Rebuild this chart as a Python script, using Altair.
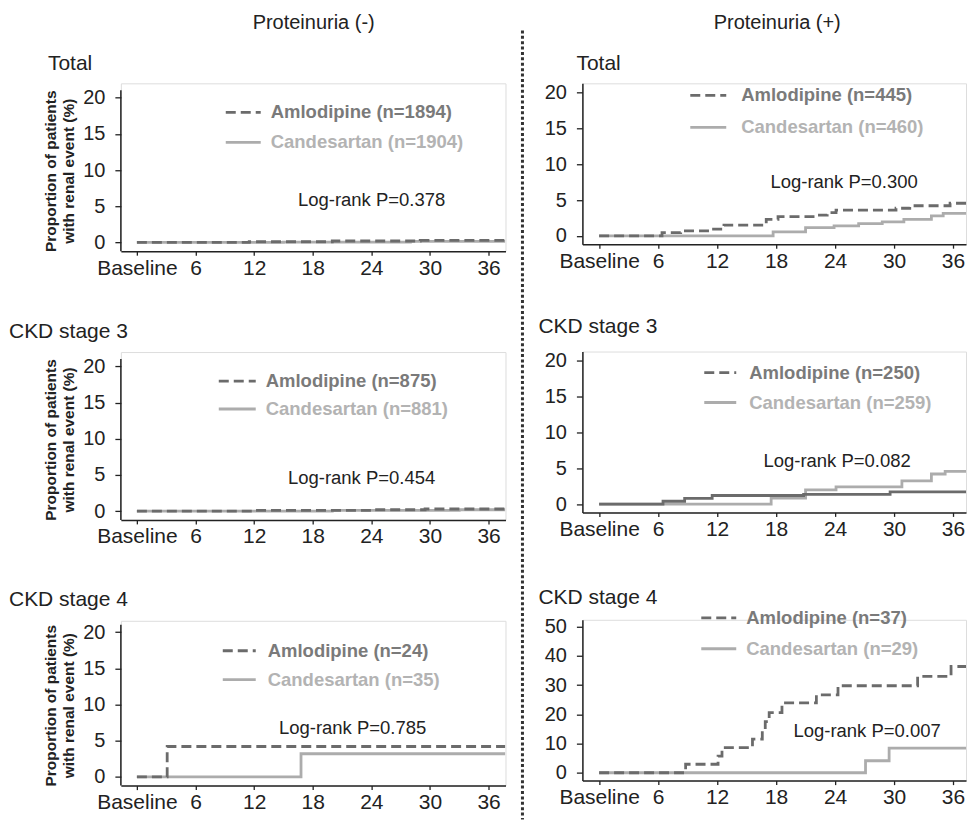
import altair as alt
import pandas as pd

FONT = "Liberation Sans"
MONTH_TICKS = [0, 6, 12, 18, 24, 30, 36]

# ---------------- data ----------------
# Proteinuria (-) / Total
neg_total_amlo_t = [0, 11.5, 20.0, 29.0, 37.7]
neg_total_amlo_v = [0, 0.1, 0.2, 0.3, 0.3]
neg_total_cand_t = [0, 15.0, 28.0, 37.7]
neg_total_cand_v = [0, 0.05, 0.15, 0.15]

# Proteinuria (+) / Total
pos_total_amlo_t = [0, 6.4, 8.3, 11.4, 12.7, 17.0, 18.2, 22.2, 23.2, 24.1, 30.2, 31.6, 35.7, 37.4]
pos_total_amlo_v = [0, 0.45, 0.7, 0.95, 1.5, 2.3, 2.7, 2.9, 3.25, 3.6, 3.85, 4.2, 4.55, 4.55]
pos_total_cand_t = [0, 17.7, 21.0, 23.9, 26.4, 28.8, 31.0, 33.8, 35.0, 37.4]
pos_total_cand_v = [0, 0.55, 1.15, 1.4, 1.7, 1.95, 2.3, 2.8, 3.15, 3.15]

# Proteinuria (-) / CKD stage 3
neg_ckd3_amlo_t = [0, 12.0, 24.0, 29.5, 37.7]
neg_ckd3_amlo_v = [0, 0.1, 0.2, 0.3, 0.3]
neg_ckd3_cand_t = [0, 20.0, 33.0, 37.7]
neg_ckd3_cand_v = [0, 0.1, 0.2, 0.2]

# Proteinuria (+) / CKD stage 3
pos_ckd3_amlo_t = [0, 6.5, 8.7, 11.5, 20.8, 29.6, 37.4]
pos_ckd3_amlo_v = [0, 0.4, 0.8, 1.2, 1.35, 1.7, 1.7]
pos_ckd3_cand_t = [0, 17.5, 21.0, 24.1, 30.8, 33.8, 35.2, 37.4]
pos_ckd3_cand_v = [0, 0.85, 2.0, 2.4, 3.25, 4.2, 4.55, 4.55]

# Proteinuria (-) / CKD stage 4
neg_ckd4_amlo_t = [0, 3.1, 37.7]
neg_ckd4_amlo_v = [0, 4.2, 4.2]
neg_ckd4_cand_t = [0, 16.8, 37.7]
neg_ckd4_cand_v = [0, 3.2, 3.2]

# Proteinuria (+) / CKD stage 4
pos_ckd4_amlo_t = [0, 8.8, 12.1, 12.5, 15.6, 16.6, 16.9, 17.3, 18.6, 22.1, 24.3, 32.4, 35.8, 37.4]
pos_ckd4_amlo_v = [0, 2.9, 5.7, 8.6, 11.5, 14.7, 17.5, 20.6, 23.9, 26.7, 29.8, 33.0, 36.4, 36.4]
pos_ckd4_cand_t = [0, 27.1, 29.5, 37.4]
pos_ckd4_cand_v = [0, 4.1, 8.4, 8.4]

panel_titles = ["Total", "Total", "CKD stage 3", "CKD stage 3", "CKD stage 4", "CKD stage 4"]
amlo_n = [1894, 445, 875, 250, 24, 37]
cand_n = [1904, 460, 881, 259, 35, 29]
logrank_p = ["0.378", "0.300", "0.454", "0.082", "0.785", "0.007"]
column_headers = ["Proteinuria (-)", "Proteinuria (+)"]
y_ticks_small = [0, 5, 10, 15, 20]
y_ticks_large = [0, 10, 20, 30, 40, 50]

series = [
    (neg_total_amlo_t, neg_total_amlo_v, neg_total_cand_t, neg_total_cand_v),
    (pos_total_amlo_t, pos_total_amlo_v, pos_total_cand_t, pos_total_cand_v),
    (neg_ckd3_amlo_t, neg_ckd3_amlo_v, neg_ckd3_cand_t, neg_ckd3_cand_v),
    (pos_ckd3_amlo_t, pos_ckd3_amlo_v, pos_ckd3_cand_t, pos_ckd3_cand_v),
    (neg_ckd4_amlo_t, neg_ckd4_amlo_v, neg_ckd4_cand_t, neg_ckd4_cand_v),
    (pos_ckd4_amlo_t, pos_ckd4_amlo_v, pos_ckd4_cand_t, pos_ckd4_cand_v),
]

# ---------------- layout / style ----------------
H = 161
W_LEFT, W_RIGHT = 385, 384
X_DOM_LEFT = [-1.64, 37.73]
X_DOM_RIGHT = [-1.70, 37.32]
Y_LO, Y_HI = -1.2, 21.0            # visible y-axis extent, left column
PX_PER_UNIT_LEFT = H / (Y_HI - Y_LO)
Y_DOM_RIGHT = [-1.15, 21.25]
Y_DOM_LARGE = [-2.7, 52.4]
# empty space above the left-column axes (left plots sit lower than right ones)
EXTRA = [7, 0, 7, 0, 4, 0]

AMLO_LINE = "#6b6b6b"
CAND_LINE = "#acacac"
AMLO_TEXT = "#7a7a7a"
CAND_TEXT = "#b3b3b3"
INK = "#222222"

# legend line x0, x1, y amlo, y cand, text x ; logrank (x, y) ; title (x, y)
# (y values relative to the top of each drawn axis)
layout = [
    dict(lx0=105, lx1=140, ya=22, yc=52, tx=150, px=251, py=110, hx=-73, hy=-20),
    dict(lx0=108, lx1=144, ya=12, yc=44, tx=159, px=262, py=99, hx=-6, hy=-13),
    dict(lx0=98, lx1=135, ya=22, yc=50, tx=145, px=241, py=119, hx=-112, hy=-21),
    dict(lx0=122, lx1=154, ya=21, yc=51, tx=167, px=255, py=110, hx=-44, hy=-19),
    dict(lx0=102, lx1=135, ya=26, yc=55, tx=147, px=232, py=103, hx=-112, hy=-19),
    dict(lx0=119, lx1=154, ya=-2, yc=29, tx=164, px=285, py=111, hx=-44, hy=-16),
]


def text_layer(label, x, y, size, color=INK, weight="normal", align="left", baseline="alphabetic"):
    return alt.Chart(pd.DataFrame({"label": [label]})).mark_text(
        font=FONT, fontSize=size, fontWeight=weight, color=color,
        align=align, baseline=baseline,
    ).encode(x=alt.value(x), y=alt.value(y), text="label:N")


def rule_layer(x0, x1, y, color, dash=None, width=2.8, opacity=1.0):
    kw = dict(color=color, strokeWidth=width, opacity=opacity)
    if dash:
        kw["strokeDash"] = dash
    return alt.Chart(pd.DataFrame({"k": [0]})).mark_rule(**kw).encode(
        x=alt.value(x0), x2=alt.value(x1), y=alt.value(y)
    )


def build_panel(i):
    left = i % 2 == 0
    at, av, ct, cv = series[i]
    L = layout[i]
    e = EXTRA[i]
    big = i == 5
    height = H + e
    if big:
        ydom = Y_DOM_LARGE
    elif left:
        ydom = [Y_LO, Y_HI + e / PX_PER_UNIT_LEFT]
    else:
        ydom = Y_DOM_RIGHT
    yticks = y_ticks_large if big else y_ticks_small
    xdom = X_DOM_LEFT if left else X_DOM_RIGHT
    width = W_LEFT if left else W_RIGHT
    amlo_dash = None if i == 3 else [10, 5]

    x_enc = alt.X(
        "month:Q",
        scale=alt.Scale(domain=xdom, nice=False, zero=False),
        axis=alt.Axis(
            values=MONTH_TICKS, title=None, grid=False,
            labelExpr="datum.value == 0 ? 'Baseline' : datum.label",
            tickSize=4, labelPadding=2, labelFontSize=21, labelFont=FONT,
            labelOverlap=False, labelFlush=False, labelBound=False,
            labelColor=INK, domainColor=INK, tickColor=INK,
            domainWidth=1.5, tickWidth=1.3,
        ),
    )
    y_axis_kw = dict(
        values=yticks, grid=False, tickSize=6, labelPadding=10,
        labelFontSize=20, labelFont=FONT, labelColor=INK,
        domainColor=INK, tickColor=INK, domainWidth=1.5, tickWidth=1.3,
    )
    if left:
        y_axis_kw.update(
            domain=False,
            title=["Proportion of patients", "with renal event (%)"],
            titleFont=FONT, titleFontSize=15.5, titleFontWeight="bold",
            titleColor=INK, titleLineHeight=18, titleX=-62, titleY=e + H / 2,
            titleAngle=270, titleAlign="center", titleBaseline="bottom",
        )
    else:
        y_axis_kw["title"] = None
    y_enc = alt.Y("pct:Q", scale=alt.Scale(domain=ydom, nice=False, zero=False),
                  axis=alt.Axis(**y_axis_kw))

    cand_df = pd.DataFrame({"month": ct, "pct": cv})
    amlo_df = pd.DataFrame({"month": at, "pct": av})
    cand_line = alt.Chart(cand_df).mark_line(
        interpolate="step-after", color=CAND_LINE, strokeWidth=2.8, clip=True
    ).encode(x=x_enc, y=y_enc)
    amlo_kw = dict(interpolate="step-after", color=AMLO_LINE, strokeWidth=2.8, clip=True)
    if amlo_dash:
        amlo_kw["strokeDash"] = amlo_dash
    amlo_line = alt.Chart(amlo_df).mark_line(**amlo_kw).encode(x=x_enc, y=y_enc)

    layers = [cand_line, amlo_line]
    if left:
        # the y-axis line, covering only the visible extent
        layers.append(
            alt.Chart(pd.DataFrame({"lo": [Y_LO], "hi": [Y_HI]})).mark_rule(
                color=INK, strokeWidth=1.5
            ).encode(x=alt.value(0), y=alt.Y("lo:Q", scale=alt.Scale(domain=ydom, nice=False, zero=False)), y2="hi:Q")
        )
    layers.append(rule_layer(L["lx0"], L["lx1"], L["ya"] + e, AMLO_LINE, dash=[10, 5]))
    layers.append(rule_layer(L["lx0"], L["lx1"], L["yc"] + e, CAND_LINE))
    layers.append(text_layer(f"Amlodipine (n={amlo_n[i]})", L["tx"], L["ya"] + e, 18.5,
                             color=AMLO_TEXT, weight="bold", baseline="middle"))
    layers.append(text_layer(f"Candesartan (n={cand_n[i]})", L["tx"], L["yc"] + e, 18.5,
                             color=CAND_TEXT, weight="bold", baseline="middle"))
    layers.append(text_layer(f"Log-rank P={logrank_p[i]}", L["px"], L["py"] + e, 18.5,
                             align="center", baseline="middle"))
    layers.append(text_layer(panel_titles[i], L["hx"], L["hy"] + e, 21))

    if i == 0:
        # left column header + invisible anchor fixing the column's box (abs 0..510, top 0)
        layers.append(text_layer(column_headers[0], 193, -54.7, 20, align="center"))
        layers.append(rule_layer(-120, 390, -82.5, "white", width=1, opacity=0))
    if i == 1:
        # right column header, dotted divider and invisible anchor (top 0)
        layers.append(text_layer(column_headers[1], 195, -54.7, 20, align="center"))
        layers.append(
            alt.Chart(pd.DataFrame({"k": [0]})).mark_rule(
                color="#333333", strokeWidth=3, strokeDash=[3, 2.4]
            ).encode(x=alt.value(-60), y=alt.value(-53), y2=alt.value(737))
        )
        layers.append(rule_layer(-60, 383, -82.5, "white", width=1, opacity=0))

    return alt.layer(*layers).properties(width=width, height=height)


panels = [build_panel(i) for i in range(6)]

left_col = alt.vconcat(panels[0], panels[2], panels[4], spacing=101, bounds="flush")
right_col = alt.vconcat(panels[1], panels[3], panels[5], spacing=107.5, bounds="flush")

chart = alt.hconcat(left_col, right_col, spacing=9).properties(
    padding=0, autosize=alt.AutoSizeParams(type="pad")
).configure_view(stroke=None).configure(background="white")

chart.save("out.html", embed_options={"renderer": "svg", "actions": False})
